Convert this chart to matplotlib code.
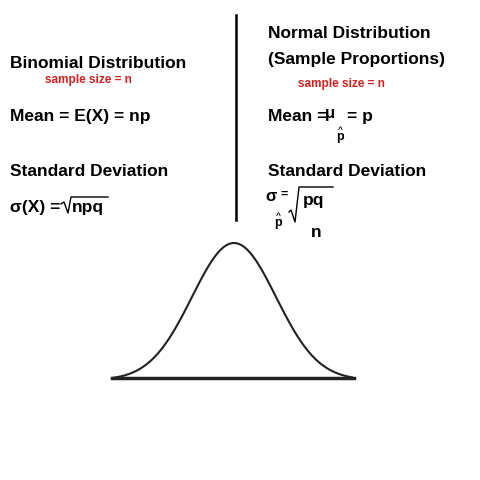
import numpy as np
import matplotlib.pyplot as plt

# curve parameters (pixel space)
CURVE_MU = 234
CURVE_SD = 42
CURVE_X = [112, 352]
CURVE_PEAK_Y = 243
CURVE_BASE_Y = 380
BASELINE_X = [112, 354]
BASELINE_Y = 378

plt.rcParams['font.family'] = ['Liberation Sans', 'DejaVu Sans']

fig = plt.figure(figsize=(4.8, 4.8), dpi=100)
ax = fig.add_axes([0, 0, 1, 1])
ax.set_xlim(0, 480)
ax.set_ylim(480, 0)
ax.axis('off')

big = dict(fontsize=12.5, fontweight='bold', color='black', va='baseline')
red = dict(fontsize=8.5, fontweight='bold', color='#d42020', va='baseline')
hat = dict(fontsize=6, fontweight='bold', va='baseline', ha='center')
small = dict(fontsize=9, fontweight='bold', va='baseline', ha='center')

# left column
ax.text(10, 68, 'Binomial Distribution', **big)
ax.text(45, 83, 'sample size = n', **red)
ax.text(10, 121, 'Mean = E(X) = np', **big)
ax.text(10, 176, 'Standard Deviation', **big)
ax.text(10, 212, 'σ(X) =', **big)
ax.plot([61, 64, 68, 71, 108], [204, 202, 213, 197, 197], color='black', lw=1)
ax.text(72, 212, 'npq', **big)

# divider
ax.plot([236, 236], [15, 220], color='black', lw=1.8)

# right column
ax.text(268, 38, 'Normal Distribution', **big)
ax.text(268, 64, '(Sample Proportions)', **big)
ax.text(298, 87, 'sample size = n', **red)
ax.text(268, 121, 'Mean =', **big)
ax.text(330, 118, 'μ', fontsize=12, fontweight='bold', va='baseline', ha='center')
ax.text(340, 140, 'p', **small)
ax.text(340, 132, '^', **hat)
ax.text(347, 121, '= p', **big)
ax.text(268, 176, 'Standard Deviation', **big)
ax.text(271, 201, 'σ', fontsize=12, fontweight='bold', va='baseline', ha='center')
ax.text(284, 198, '=', fontsize=9, fontweight='bold', va='baseline', ha='center')
ax.text(278, 226, 'p', **small)
ax.text(278, 218, '^', **hat)
ax.plot([289, 291, 295, 299, 333], [212, 210, 222, 187, 187], color='black', lw=1)
ax.text(303, 205, 'pq', **big)
ax.text(316, 237, 'n', fontsize=12.5, fontweight='bold', va='baseline', ha='center')

# bell curve
xs = np.linspace(CURVE_X[0], CURVE_X[1], 200)
dens = np.exp(-0.5 * ((xs - CURVE_MU) / CURVE_SD) ** 2)
ys = CURVE_BASE_Y - (CURVE_BASE_Y - CURVE_PEAK_Y) * dens
ax.plot(xs, ys, color='#222222', lw=1.5)
ax.plot(BASELINE_X, [BASELINE_Y, BASELINE_Y], color='#222222', lw=2.5)

fig.savefig('out.png', dpi=100)
